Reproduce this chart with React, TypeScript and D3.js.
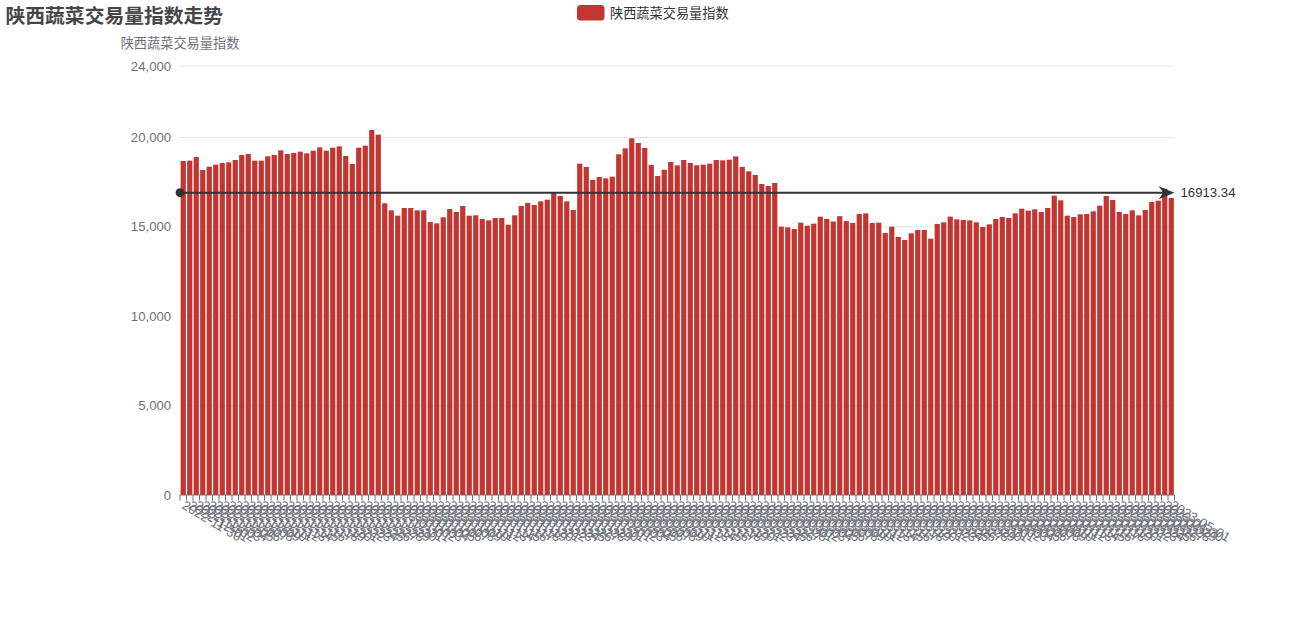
import { useMemo } from 'react';
import * as d3 from 'd3';

const title = '陕西蔬菜交易量指数走势';
const seriesName = '陕西蔬菜交易量指数';

// daily categories, formatted YYYY-MM-DD
const startDate = new Date(2022, 10, 30);
const endDate = new Date(2023, 4, 2); // exclusive

const values = [
  18685, 18704, 18909, 18182, 18368, 18480, 18573, 18610, 18741, 19021,
  19077, 18704, 18704, 18946, 19021, 19282, 19077, 19133, 19208, 19114,
  19263, 19450, 19263, 19431, 19506, 18965, 18517, 19431, 19543, 20420,
  20159, 16317, 15925, 15627, 16056, 16056, 15925, 15925, 15273, 15198,
  15534, 16000, 15832, 16168, 15627, 15646, 15440, 15366, 15496, 15496,
  15123, 15646, 16168, 16336, 16224, 16429, 16522, 16951, 16727, 16429,
  15944, 18536, 18350, 17622, 17790, 17716, 17809, 19058, 19394, 19954,
  19692, 19412, 18461, 17846, 18200, 18629, 18443, 18741, 18573, 18443,
  18480, 18536, 18741, 18722, 18760, 18946, 18350, 18107, 17902, 17398,
  17286, 17454, 15011, 14974, 14881, 15235, 15067, 15179, 15571, 15440,
  15300, 15600, 15320, 15217, 15720, 15757, 15217, 15235, 14657, 15011,
  14434, 14266, 14639, 14825, 14825, 14340, 15161, 15254, 15571, 15422,
  15385, 15366, 15254, 14993, 15142, 15440, 15552, 15496, 15757, 16019,
  15907, 15981, 15832, 16056, 16747, 16485, 15627, 15552, 15702, 15720,
  15869, 16187, 16727, 16503, 15832, 15720, 15925, 15645, 15944, 16392,
  16466, 17137, 16615,
];

const averageValue = 16913.34;
const yTicks = [0, 5000, 10000, 15000, 20000, 24000];
const yMax = 24000;

const WIDTH = 1305;
const HEIGHT = 627;
const CJK = '"Noto Sans CJK SC", "Liberation Sans", sans-serif';
const LATIN = '"Liberation Sans", Arial, sans-serif';

const App = () => {
  const marginLeft = 180;
  const marginRight = 130.5;
  const marginTop = 66;
  const marginBottom = 132;

  const dates = useMemo(() => d3.timeDay.range(startDate, endDate).map(d3.timeFormat('%Y-%m-%d')), []);

  const x = d3
    .scaleBand<string>()
    .domain(dates)
    .range([marginLeft, WIDTH - marginRight])
    .paddingInner(0.2)
    .paddingOuter(0.1);

  const y = d3.scaleLinear([0, yMax], [HEIGHT - marginBottom, marginTop]);

  const step = x.step();
  const x0 = marginLeft;
  const x1 = WIDTH - marginRight;
  const yBase = y(0);
  const yAvg = y(averageValue);
  const fmt = d3.format(',');

  return (
    <div style={{ position: 'fixed', left: 0, top: 0, background: '#fff' }}>
      <svg width={WIDTH} height={HEIGHT} viewBox={`0 0 ${WIDTH} ${HEIGHT}`}>
        <text x={5.5} y={14} dominantBaseline="central" fontFamily={CJK} fontSize={19.8} fontWeight="bold" fill="#464646">
          {title}
        </text>

        {/* legend */}
        <rect x={577} y={5} width={27.5} height={15.4} rx={3.5} fill="#c23531" />
        <text x={610} y={12.7} dominantBaseline="central" fontFamily={CJK} fontSize={13.2} fill="#333">
          {seriesName}
        </text>

        {/* y axis name */}
        <text x={x0} y={42} textAnchor="middle" dominantBaseline="central" fontFamily={CJK} fontSize={13.2} fill="#6E7079">
          {seriesName}
        </text>

        {/* split lines + y labels */}
        {yTicks.map((t) => (
          <g key={t}>
            {t > 0 && <line x1={x0} x2={x1} y1={y(t)} y2={y(t)} stroke="#E0E6F1" strokeWidth={1} />}
            <text x={x0 - 8.8} y={y(t)} textAnchor="end" dominantBaseline="central" fontFamily={LATIN} fontSize={13.2} fill="#6E7079">
              {fmt(t)}
            </text>
          </g>
        ))}

        {/* bars */}
        {values.map((v, i) => (
          <rect key={i} x={x(dates[i])} y={y(v)} width={x.bandwidth()} height={yBase - y(v)} fill="#c23531" />
        ))}

        {/* x axis */}
        <line x1={x0} x2={x1} y1={yBase} y2={yBase} stroke="#6E7079" strokeWidth={1} />
        {d3.range(dates.length + 1).map((i) => (
          <line key={i} x1={x0 + i * step} x2={x0 + i * step} y1={yBase} y2={yBase + 5.5} stroke="#6E7079" strokeWidth={1} />
        ))}
        {dates.map((d) => {
          const cx = (x(d) ?? 0) + x.bandwidth() / 2;
          const ty = yBase + 8.8;
          return (
            <text
              key={d}
              x={cx}
              y={ty}
              transform={`rotate(31 ${cx} ${ty})`}
              dominantBaseline="central"
              fontFamily={LATIN}
              fontSize={13.2}
              fill="#6E7079"
            >
              {d}
            </text>
          );
        })}

        {/* average mark line */}
        <line x1={x0} x2={x1 - 8} y1={yAvg} y2={yAvg} stroke="#333" strokeWidth={2} />
        <circle cx={x0} cy={yAvg} r={4.4} fill="#333" />
        <path
          d={`M${x1},${yAvg} L${x1 - 16},${yAvg - 6.5} L${x1 - 11},${yAvg} L${x1 - 16},${yAvg + 6.5} Z`}
          fill="#333"
        />
        <text x={x1 + 6} y={yAvg} dominantBaseline="central" fontFamily={LATIN} fontSize={13.2} fill="#333">
          {averageValue.toFixed(2)}
        </text>
      </svg>
    </div>
  );
};

export default App;
